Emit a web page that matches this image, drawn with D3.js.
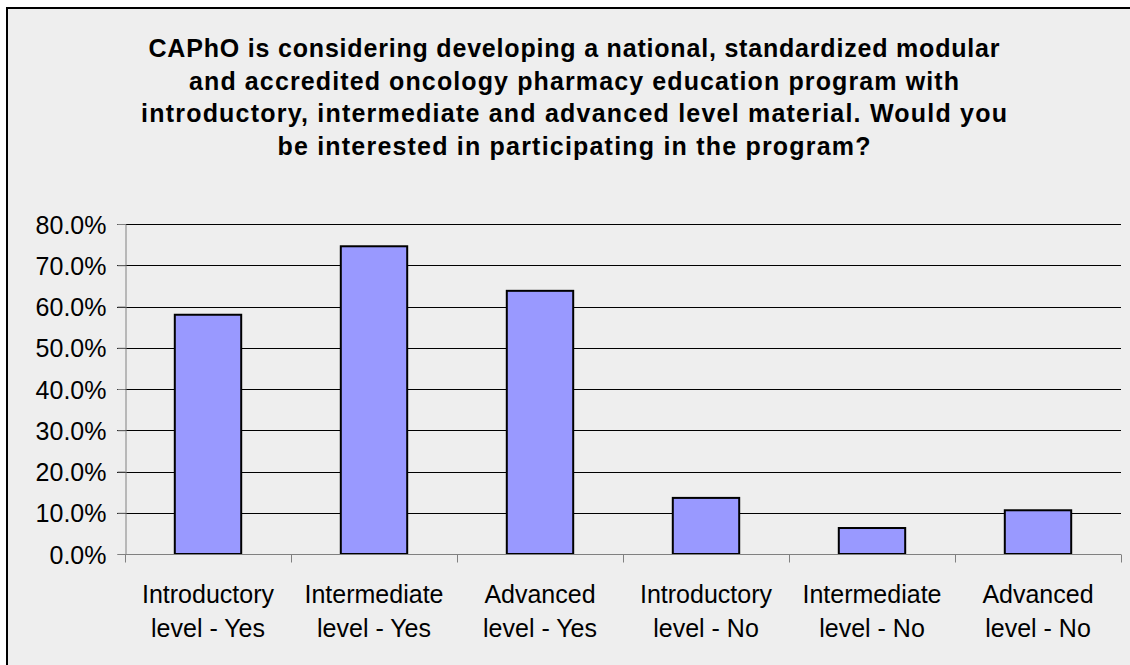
<!DOCTYPE html>
<html><head><meta charset="utf-8">
<script src="https://cdn.jsdelivr.net/npm/d3@7"></script>
<style>html,body{margin:0;padding:0;background:#fff;}svg{display:block;}</style>
</head><body>
<script>
const categories = [
  ["Introductory", "level - Yes"],
  ["Intermediate", "level - Yes"],
  ["Advanced", "level - Yes"],
  ["Introductory", "level - No"],
  ["Intermediate", "level - No"],
  ["Advanced", "level - No"]
];
const values = [0.580, 0.746, 0.638, 0.136, 0.063, 0.106];
const yTicks = [0, 0.1, 0.2, 0.3, 0.4, 0.5, 0.6, 0.7, 0.8];
const titleLines = [
  "CAPhO is considering developing a national, standardized modular",
  "and accredited oncology pharmacy education program with",
  "introductory, intermediate and advanced level material. Would you",
  "be interested in participating in the program?"
];
const titleWidths = [851, 770, 866, 593];

const W = 1130, H = 665;
const font = "Tahoma, 'Liberation Sans', Arial, sans-serif";
const svg = d3.select("body").append("svg").attr("width", W).attr("height", H);

svg.append("rect").attr("x", 7).attr("y", 8).attr("width", W + 10).attr("height", H + 10)
  .attr("fill", "#EEEEEE").attr("stroke", "#000").attr("stroke-width", 2);

const plot = {left: 125, right: 1121, top: 224, bottom: 554};
const x = d3.scaleBand().domain(d3.range(categories.length)).range([plot.left, plot.right]).paddingInner(0.6).paddingOuter(0.3);
const xb = d3.scaleBand().domain(d3.range(categories.length)).range([plot.left, plot.right]);
const y = d3.scaleLinear().domain([0, 0.8]).range([plot.bottom, plot.top]);

// title
const title = svg.append("text").attr("text-anchor", "middle").attr("font-family", font)
  .attr("font-weight", "bold").attr("font-size", 25).attr("fill", "#000");
titleLines.forEach((t, i) => {
  title.append("tspan").attr("x", 574).attr("y", 57 + i * 32.6)
    .attr("textLength", titleWidths[i]).attr("lengthAdjust", "spacing").text(t);
});

// gridlines
svg.append("g").selectAll("line").data(yTicks.filter(d => d > 0)).join("line")
  .attr("x1", plot.left - 8).attr("x2", plot.right)
  .attr("y1", d => Math.round(y(d)) + 0.5).attr("y2", d => Math.round(y(d)) + 0.5)
  .attr("stroke", "#000").attr("stroke-width", 1);

// y axis
const yAxis = svg.append("g").attr("transform", `translate(${plot.left + 0.5},0)`)
  .call(d3.axisLeft(y).tickValues(yTicks).tickFormat(d3.format(".1%")).tickSize(8).tickPadding(11));
yAxis.select(".domain").attr("stroke", "#808080");
yAxis.selectAll(".tick line").attr("stroke", "#808080");
yAxis.selectAll(".tick text").attr("font-family", font).attr("font-size", 25).attr("fill", "#000")
  .attr("dy", "0.36em");

// bars
svg.append("g").selectAll("rect").data(values).join("rect")
  .attr("x", (d, i) => x(i)).attr("width", x.bandwidth())
  .attr("y", d => y(d)).attr("height", d => y(0) - y(d))
  .attr("fill", "#9999FF").attr("stroke", "#000").attr("stroke-width", 2);

// x axis
const xAxis = svg.append("g").attr("transform", `translate(0,${plot.bottom + 0.5})`);
xAxis.append("line").attr("x1", plot.left).attr("x2", plot.right).attr("stroke", "#808080");
xAxis.selectAll("line.tk").data(d3.range(categories.length + 1)).join("line").attr("class", "tk")
  .attr("x1", i => Math.round(plot.left + i * xb.bandwidth()) + 0.5)
  .attr("x2", i => Math.round(plot.left + i * xb.bandwidth()) + 0.5)
  .attr("y1", 0).attr("y2", 8).attr("stroke", "#808080");
const lbl = svg.append("g").selectAll("text").data(categories).join("text")
  .attr("text-anchor", "middle").attr("font-family", font).attr("font-size", 25).attr("fill", "#000");
lbl.each(function(d, i) {
  const cx = xb(i) + xb.bandwidth() / 2;
  d.forEach((t, j) => d3.select(this).append("tspan").attr("x", cx).attr("y", 603 + j * 34).text(t));
});
</script>
</body></html>
